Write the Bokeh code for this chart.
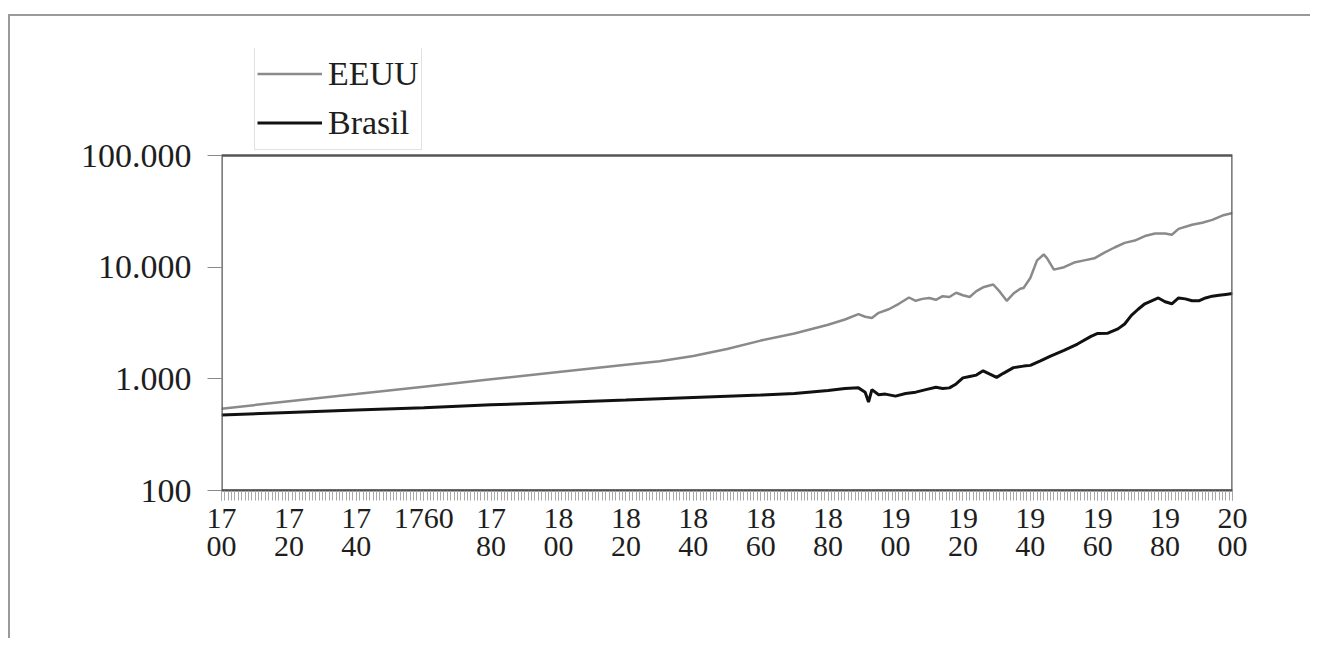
from bokeh.plotting import figure
from bokeh.models import Range1d, FixedTicker, Legend, LegendItem, BoxAnnotation
from bokeh.embed import file_html
from bokeh.resources import INLINE

# ---------------- data ----------------
series_names = ["EEUU", "Brasil"]

years_eeuu = [1700, 1720, 1740, 1760, 1780, 1800, 1820, 1830, 1840, 1850, 1860, 1870,
              1880, 1885, 1889, 1891, 1893, 1895, 1898, 1901, 1904, 1906, 1908, 1910,
              1912, 1914, 1916, 1918, 1920, 1922, 1924, 1926, 1929, 1931, 1933, 1935,
              1937, 1938, 1940, 1942, 1944, 1945, 1947, 1950, 1953, 1956, 1959, 1962,
              1965, 1968, 1971, 1974, 1977, 1980, 1982, 1984, 1988, 1991, 1994, 1997, 2000]
pib_eeuu = [540, 630, 730, 850, 990, 1150, 1340, 1440, 1600, 1850, 2200, 2550,
            3050, 3400, 3800, 3600, 3500, 3900, 4200, 4700, 5350, 5000, 5200, 5300,
            5100, 5500, 5400, 5900, 5600, 5400, 6100, 6600, 7000, 6000, 5000, 5800,
            6400, 6500, 8000, 11500, 13000, 12000, 9500, 10000, 11000, 11500, 12000, 13500,
            15000, 16500, 17300, 19000, 20000, 20000, 19500, 22000, 24000, 25000, 26500, 29000, 30500]

years_brasil = [1700, 1720, 1740, 1760, 1780, 1800, 1820, 1840, 1860, 1870, 1880, 1885,
                1889, 1891, 1892, 1893, 1895, 1897, 1900, 1903, 1906, 1909, 1912, 1914,
                1916, 1918, 1920, 1922, 1924, 1926, 1928, 1930, 1932, 1935, 1938, 1940,
                1943, 1946, 1950, 1954, 1958, 1960, 1963, 1966, 1968, 1970, 1972, 1974,
                1976, 1978, 1980, 1982, 1984, 1986, 1988, 1990, 1992, 1994, 1996, 1998, 2000]
pib_brasil = [475, 500, 525, 550, 585, 615, 645, 680, 715, 740, 785, 820,
              830, 760, 620, 800, 720, 730, 700, 740, 760, 800, 840, 820,
              830, 900, 1020, 1050, 1080, 1180, 1100, 1030, 1120, 1260, 1300, 1320,
              1450, 1600, 1800, 2050, 2400, 2550, 2560, 2800, 3100, 3700, 4200, 4700,
              5000, 5300, 4900, 4700, 5300, 5200, 5000, 5000, 5300, 5500, 5600, 5700, 5800]

x_tick_years = [1700, 1720, 1740, 1760, 1780, 1800, 1820, 1840, 1860, 1880,
                1900, 1920, 1940, 1960, 1980, 2000]
x_tick_labels = ["17\n00", "17\n20", "17\n40", "1760", "17\n80", "18\n00", "18\n20", "18\n40",
                 "18\n60", "18\n80", "19\n00", "19\n20", "19\n40", "19\n60", "19\n80", "20\n00"]
x_minor_years = list(range(1700, 2001))

y_tick_values = [100, 1000, 10000, 100000]
y_tick_labels = ["100", "1.000", "10.000", "100.000"]

X_MIN, X_MAX = 1700, 2000
Y_MIN, Y_MAX = 100, 100000

# ---------------- layout ----------------
FONT = "Liberation Serif"
TXT = "#1e1e1e"

BOX_H = 335          # pixel height of the plotted box (100 .. 100.000)
HEADROOM = 107       # pixels above the box, where the legend sits
FRAME_H = BOX_H + HEADROOM
# extend the log range above 100.000 so that the legend space belongs to the frame
y_top = Y_MIN * (Y_MAX / Y_MIN) ** (FRAME_H / BOX_H)

p = figure(width=1302, height=624,
           x_range=Range1d(X_MIN, X_MAX), y_range=Range1d(Y_MIN, y_top),
           y_axis_type="log",
           output_backend="svg", toolbar_location=None,
           min_border_left=211, min_border_right=80,
           min_border_top=624 - 150 - FRAME_H, min_border_bottom=150)
p.styles = {"border-top": "2px solid #9a9a9a", "border-left": "2px solid #9a9a9a",
            "margin-top": "14px", "margin-left": "8px"}

p.background_fill_color = "white"
p.border_fill_color = "white"
p.outline_line_color = None
p.xgrid.visible = False
p.ygrid.visible = False

# plot box
p.add_layout(BoxAnnotation(left=X_MIN, right=X_MAX, bottom=Y_MIN, top=Y_MAX,
                           fill_alpha=0, line_color="#555555", line_alpha=1.0,
                           line_width=2.5))

# x axis
xa = p.xaxis[0]
xa.ticker = FixedTicker(ticks=x_tick_years, minor_ticks=x_minor_years)
xa.major_label_overrides = dict(zip(x_tick_years, x_tick_labels))
xa.axis_line_color = "#444444"
xa.axis_line_width = 2
xa.major_tick_out = 10
xa.major_tick_in = 0
xa.major_tick_line_color = "#999999"
xa.minor_tick_out = 10
xa.minor_tick_in = 0
xa.minor_tick_line_color = "#a8a8a8"
xa.major_label_text_font = FONT
xa.major_label_text_font_size = "30px"
xa.major_label_text_color = TXT
xa.major_label_text_line_height = 0.85
xa.major_label_standoff = 0

# y axis
ya = p.yaxis[0]
ya.ticker = FixedTicker(ticks=y_tick_values, minor_ticks=[])
ya.major_label_overrides = dict(zip(y_tick_values, y_tick_labels))
ya.axis_line_color = None
ya.major_tick_out = 14
ya.major_tick_in = 0
ya.major_tick_line_color = "#8a8a8a"
ya.minor_tick_line_color = None
ya.major_label_text_font = FONT
ya.major_label_text_font_size = "34px"
ya.major_label_text_color = TXT
ya.major_label_standoff = 16

# lines
r_us = p.line(years_eeuu, pib_eeuu, line_color="#8a8a8a", line_width=2.5)
r_br = p.line(years_brasil, pib_brasil, line_color="#111111", line_width=3)

legend = Legend(items=[LegendItem(label=series_names[0], renderers=[r_us]),
                       LegendItem(label=series_names[1], renderers=[r_br])],
                location=(33, BOX_H + 5))
legend.border_line_color = "#c4c4c4"
legend.border_line_width = 1.5
legend.background_fill_color = "white"
legend.background_fill_alpha = 1.0
legend.padding = 2
legend.spacing = 0
legend.margin = 0
legend.glyph_width = 65
legend.glyph_height = 49
legend.label_height = 49
legend.label_standoff = 6
legend.label_text_font = FONT
legend.label_text_font_size = "34px"
legend.label_text_color = TXT
legend.label_text_baseline = "top"
p.add_layout(legend)

open("out.html", "w").write(file_html(p, INLINE))
